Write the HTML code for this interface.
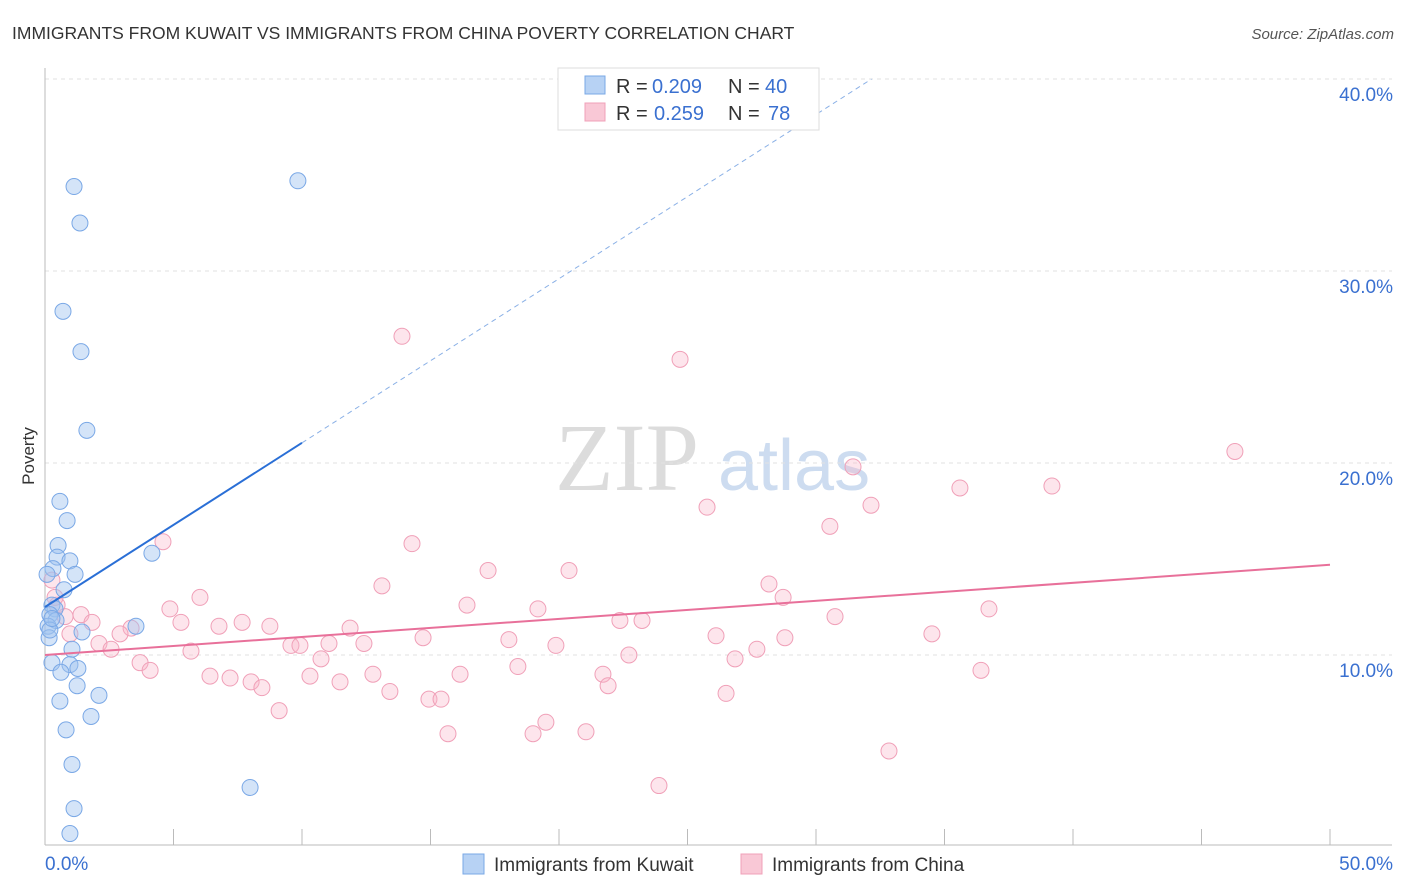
<!DOCTYPE html>
<html><head><meta charset="utf-8"><style>
body{margin:0;background:#fff;font-family:"Liberation Sans",sans-serif;}
svg{display:block}
</style></head><body>
<svg id="chart" width="1406" height="892" xmlns="http://www.w3.org/2000/svg">
<text x="12" y="39" font-size="17.5" fill="#333">IMMIGRANTS FROM KUWAIT VS IMMIGRANTS FROM CHINA POVERTY CORRELATION CHART</text>
<text x="1394" y="39" font-size="15" fill="#555" font-style="italic" text-anchor="end">Source: ZipAtlas.com</text>
<g>
<text x="555" y="490" font-size="96" fill="#dcdcdc" font-family="Liberation Serif,serif">ZIP</text>
<text x="718" y="490" font-size="72" fill="#cddcf0">atlas</text>
</g>
<g id="grid"></g><g id="axes"></g><g id="marks"></g>
<text transform="translate(34,456) rotate(-90)" font-size="17" fill="#333" text-anchor="middle">Poverty</text>
<g>
<rect x="558" y="68" width="261" height="62" fill="#fff" stroke="#ddd"/>
<rect x="585" y="76" width="20" height="18" fill="#b7d2f4" stroke="#7aa8e6"/>
<rect x="585" y="103" width="20" height="18" fill="#f9c8d6" stroke="#f0a0b8"/>
<text y="93" font-size="20" fill="#333"><tspan x="616">R =</tspan><tspan x="652" fill="#3a70d0">0.209</tspan><tspan x="728">N =</tspan><tspan x="765" fill="#3a70d0">40</tspan></text>
<text y="120" font-size="20" fill="#333"><tspan x="616">R =</tspan><tspan x="654" fill="#3a70d0">0.259</tspan><tspan x="728">N =</tspan><tspan x="768" fill="#3a70d0">78</tspan></text>
</g>
<g>
<rect x="463" y="854" width="21" height="20" fill="#b7d2f4" stroke="#7aa8e6"/>
<text x="494" y="871" font-size="19" fill="#333">Immigrants from Kuwait</text>
<rect x="741" y="854" width="21" height="20" fill="#f9c8d6" stroke="#f0a0b8"/>
<text x="772" y="871" font-size="19" fill="#333">Immigrants from China</text>
</g>
</svg>
<script>
const yTicks=[10,20,30,40];
const yTickLabels=["10.0%","20.0%","30.0%","40.0%"];
const xTickVals=[0,5,10,15,20,25,30,35,40,45,50];
const kuwaitX=[1.13,1.36,9.84,0.70,1.40,1.63,0.58,0.86,0.51,0.47,0.97,0.31,1.17,0.74,0.27,0.39,0.19,0.43,0.12,1.44,3.54,4.16,0.16,1.05,0.27,0.97,1.28,0.62,1.25,2.10,0.58,1.79,0.82,1.05,1.13,0.97,7.98,0.19,0.27,0.08];
const kuwaitY=[34.4,32.5,34.7,27.9,25.8,21.7,18.0,17.0,15.7,15.1,14.9,14.5,14.2,13.4,12.6,12.4,12.1,11.8,11.5,11.2,11.5,15.3,10.9,10.3,9.6,9.5,9.3,9.1,8.4,7.9,7.6,6.8,6.1,4.3,2.0,0.7,3.1,11.3,11.9,14.2];
const chinaX=[13.89,24.71,46.30,31.44,35.60,39.18,25.76,32.14,30.54,4.59,14.28,17.24,20.39,13.11,28.17,6.03,28.72,16.42,19.18,4.86,36.73,30.74,22.37,23.23,1.40,1.83,0.78,0.47,0.27,5.29,6.77,7.67,8.75,3.35,2.92,11.87,14.71,26.11,28.79,34.51,9.57,9.92,11.05,12.41,18.05,19.88,2.10,2.57,5.68,27.70,22.72,3.70,10.74,4.09,26.85,18.40,36.42,6.42,7.20,8.02,8.44,10.31,11.48,12.76,13.42,16.15,21.71,21.91,14.94,15.41,26.50,9.11,15.68,18.99,19.49,21.05,23.89,32.84,0.97,0.39];
const chinaY=[26.6,25.4,20.6,19.8,18.7,18.8,17.7,17.8,16.7,15.9,15.8,14.4,14.4,13.6,13.7,13.0,13.0,12.6,12.4,12.4,12.4,12.0,11.8,11.8,12.1,11.7,12.0,12.6,13.9,11.7,11.5,11.7,11.5,11.4,11.1,11.4,10.9,11.0,10.9,11.1,10.5,10.5,10.6,10.6,10.8,10.5,10.6,10.3,10.2,10.3,10.0,9.6,9.8,9.2,9.8,9.4,9.2,8.9,8.8,8.6,8.3,8.9,8.6,9.0,8.1,9.0,9.0,8.4,7.7,7.7,8.0,7.1,5.9,5.9,6.5,6.0,3.2,5.0,11.1,13.0];
const kuwaitTrend=[12.5,0.855]; // intercept, slope
const chinaTrend=[10.0,0.094];
const NS="http://www.w3.org/2000/svg";
const X=v=>45+v*25.7, Y=v=>847-v*19.2;
function mk(p,t,a){const e=document.createElementNS(NS,t);for(const k in a)e.setAttribute(k,a[k]);p.appendChild(e);return e;}
const grid=document.getElementById('grid'),axes=document.getElementById('axes'),marks=document.getElementById('marks');
yTicks.forEach((t,i)=>{
 const l=mk(grid,'line',{x1:45,x2:1392,y1:Y(t),y2:Y(t),stroke:'#e2e2e2','stroke-dasharray':'4,4'});
 
 
 const tx=mk(axes,'text',{x:1393,y:Y(t)+22,'font-size':19,fill:'#3a70d0','text-anchor':'end'});tx.textContent=yTickLabels[i];
 
 
});
const ya=mk(axes,'line',{x1:45,x2:45,y1:68,y2:845,stroke:'#bbb'});


const xa=mk(axes,'line',{x1:45,x2:1392,y1:845,y2:845,stroke:'#bbb'});


xTickVals.forEach(t=>{
 const l=mk(axes,'line',{x1:X(t),x2:X(t),y1:829,y2:845,stroke:'#bbb'});
 
 
});
const xl0=mk(axes,'text',{x:45,y:870,'font-size':19,fill:'#3a70d0'});xl0.textContent='0.0%';


const xl1=mk(axes,'text',{x:1393,y:870,'font-size':19,fill:'#3a70d0','text-anchor':'end'});xl1.textContent='50.0%';


chinaX.forEach((v,i)=>{
 const c=mk(marks,'circle',{cx:X(v),cy:Y(chinaY[i]),r:8,fill:'rgba(248,180,200,0.35)',stroke:'#f0a0b8','stroke-width':1});
 
 
});
kuwaitX.forEach((v,i)=>{
 const c=mk(marks,'circle',{cx:X(v),cy:Y(kuwaitY[i]),r:8,fill:'rgba(160,196,240,0.45)',stroke:'#7aa8e6','stroke-width':1});
 
 
});
const bxEnd=10, bxMax=(40-kuwaitTrend[0])/kuwaitTrend[1];
const ts=mk(marks,'line',{x1:X(0),y1:Y(kuwaitTrend[0]),x2:X(bxEnd),y2:Y(kuwaitTrend[0]+kuwaitTrend[1]*bxEnd),stroke:'#2a6fd6','stroke-width':2});


const td=mk(marks,'line',{x1:X(bxEnd),y1:Y(kuwaitTrend[0]+kuwaitTrend[1]*bxEnd),x2:X(bxMax),y2:Y(40),stroke:'#8ab0e6','stroke-width':1,'stroke-dasharray':'5,4'});


const pt=mk(marks,'line',{x1:X(0),y1:Y(chinaTrend[0]),x2:X(50),y2:Y(chinaTrend[0]+chinaTrend[1]*50),stroke:'#e8709a','stroke-width':2});


</script>
</body></html>
